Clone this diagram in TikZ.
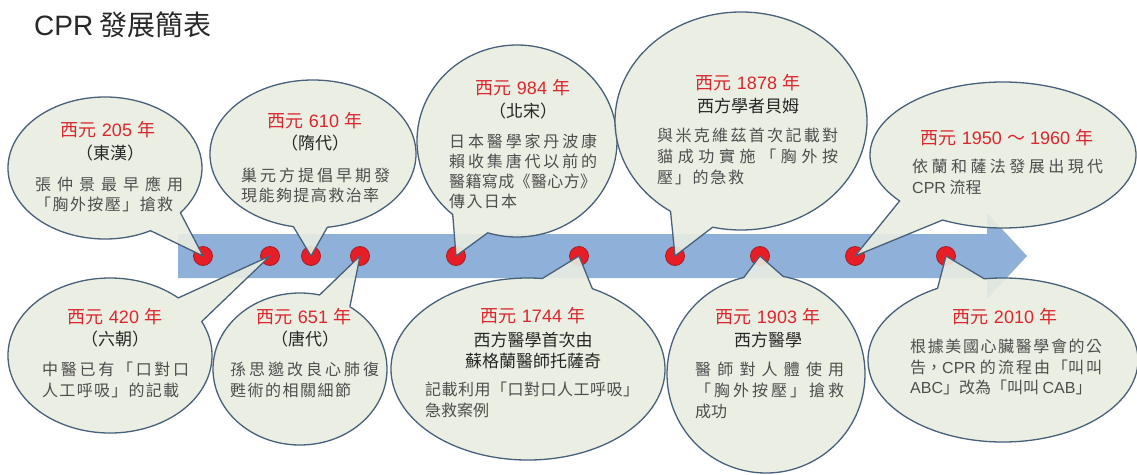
\documentclass[tikz,border=0pt]{standalone}
\usepackage{fontspec}
\setmainfont{Noto Sans CJK TC}
\newfontfamily\lat{Liberation Sans}
\usetikzlibrary{calc}

\definecolor{bandblue}{RGB}{143,176,217}
\definecolor{bubblefill}{RGB}{233,238,225}
\definecolor{bubbleline}{RGB}{72,96,122}
\definecolor{dotred}{RGB}{232,30,38}
\definecolor{dotedge}{RGB}{165,28,38}
\definecolor{yearred}{RGB}{218,38,46}
\definecolor{subdark}{RGB}{38,38,38}
\definecolor{bodygrey}{RGB}{78,78,78}
\definecolor{titlecol}{RGB}{40,40,40}

\makeatletter
\def\spr@a#1#2\@nil{#1\ifx\relax#2\relax\else\hfill\spr@a#2\@nil\fi}
\newcommand\spr[2]{\makebox[#1pt][s]{\spr@a#2\@nil}}
\makeatother
\newcommand\yr[1]{西元\hspace{0.28em}{\lat #1}\hspace{0.28em}年}

\tikzset{
  bubble/.style={fill=bubblefill, fill opacity=0.9, draw=bubbleline, line width=1.3pt, line join=round},
  tldot/.style={circle, fill=dotred, draw=dotedge, line width=0.8pt, minimum size=19pt, inner sep=0pt},
  yeartxt/.style={text=yearred, font=\fontsize{18}{20}\selectfont, inner sep=0pt, anchor=base},
  subtxt/.style={text=subdark, font=\fontsize{17}{20}\selectfont, inner sep=0pt, anchor=base},
  bodytxt/.style={text=bodygrey, font=\fontsize{16}{20}\selectfont, inner sep=0pt, anchor=base west},
  titletxt/.style={text=titlecol, font=\fontsize{28}{30}\selectfont, inner sep=0pt, anchor=base west}
}

% cx cy rx ry t1 t2 tipnode
\newcommand\bubble[7]{%
  \path[bubble] ($(#1,#2)+(#6:#3 and #4)$) arc[start angle=#6, end angle=#5+360, x radius=#3, y radius=#4] -- (#7.center) -- cycle;}

\begin{document}
\begin{tikzpicture}[x=1pt,y=-1pt]
\fill[white] (0,0) rectangle (1137,474);
\useasboundingbox (0,0) rectangle (1137,474);

\node[titletxt] (title) at (34,35) {{\lat CPR} 發展簡表};

% timeline band
\fill[bandblue] (178,234) -- (987,234) -- (987,213) -- (1027,256) -- (987,299) -- (987,278) -- (178,278) -- cycle;

% dots
\node[tldot] (d1) at (203,256) {};
\node[tldot] (d2) at (270,256) {};
\node[tldot] (d3) at (311,256) {};
\node[tldot] (d4) at (360,256) {};
\node[tldot] (d5) at (456,256) {};
\node[tldot] (d6) at (579,256) {};
\node[tldot] (d7) at (675,256) {};
\node[tldot] (d8) at (760,256) {};
\node[tldot] (d9) at (855,256) {};
\node[tldot] (d10) at (946,256) {};

% bubbles
\bubble{105}{168}{97}{71}{39}{62}{d1}
\bubble{313}{154}{103}{74}{82}{101}{d3}
\bubble{517}{141}{100}{96}{107}{130}{d5}
\bubble{741}{121}{126}{109}{103}{124}{d7}
\bubble{1003}{155}{133}{73}{117}{141}{d9}
\bubble{110}{355.5}{102}{77.5}{-48}{-26}{d2}
\bubble{300}{369}{87}{76}{-77}{-55}{d4}
\bubble{528}{369}{137}{91}{-84}{-62}{d6}
\bubble{766}{374}{99}{99}{-103}{-80}{d8}
\bubble{1003}{360}{135}{82}{-119}{-98}{d10}

% texts: 205
\node[yeartxt] (y1) at (108,136) {\yr{205}};
\node[subtxt] (s1) at (110,159.5) {（東漢）};
\node[bodytxt] (b1a) at (35,190) {\spr{148}{張仲景最早應用}};
\node[bodytxt] (b1b) at (35,210.5) {\spr{138}{「胸外按壓」搶救}};
% 610
\node[yeartxt] (y2) at (315,127) {\yr{610}};
\node[subtxt] (s2) at (315,149) {（隋代）};
\node[bodytxt] (b2a) at (241,181) {\spr{149}{巢元方提倡早期發}};
\node[bodytxt] (b2b) at (241,201) {\spr{138}{現能夠提高救治率}};
% 984
\node[yeartxt] (y3) at (523,94) {\yr{984}};
\node[subtxt] (s3) at (523,117) {（北宋）};
\node[bodytxt] (b3a) at (449,147) {\spr{148}{日本醫學家丹波康}};
\node[bodytxt] (b3b) at (449,167) {\spr{148}{賴收集唐代以前的}};
\node[bodytxt] (b3c) at (449,187) {\spr{147}{醫籍寫成《醫心方》}};
\node[bodytxt] (b3d) at (449,207) {\spr{68}{傳入日本}};
% 1878
\node[yeartxt] (y4) at (748,89) {\yr{1878}};
\node[subtxt] (s4) at (748,112.5) {西方學者貝姆};
\node[bodytxt] (b4a) at (657,141) {\spr{181}{與米克維茲首次記載對}};
\node[bodytxt] (b4b) at (657,162) {\spr{181}{貓成功實施「胸外按}};
\node[bodytxt] (b4c) at (657,183) {\spr{87}{壓」的急救}};
% 1950-1960
\node[yeartxt] (y5) at (1007,144) {\yr{1950\hspace{0.28em}{\normalfont ～}\hspace{0.28em}1960}};
\node[bodytxt] (b5a) at (912,172) {\spr{191}{依蘭和薩法發展出現代}};
\node[bodytxt] (b5b) at (912,193) {{\lat CPR} 流程};
% 420
\node[yeartxt] (y6) at (115,323) {\yr{420}};
\node[subtxt] (s6) at (115,345) {（六朝）};
\node[bodytxt] (b6a) at (42,375) {\spr{147}{中醫已有「口對口}};
\node[bodytxt] (b6b) at (42,396) {\spr{137}{人工呼吸」的記載}};
% 651
\node[yeartxt] (y7) at (304,323) {\yr{651}};
\node[subtxt] (s7) at (305,345) {（唐代）};
\node[bodytxt] (b7a) at (230,375) {\spr{149}{孫思邈改良心肺復}};
\node[bodytxt] (b7b) at (230,396) {\spr{121}{甦術的相關細節}};
% 1744
\node[yeartxt] (y8) at (533,322) {\yr{1744}};
\node[subtxt] (s8a) at (533,346) {西方醫學首次由};
\node[subtxt] (s8b) at (533,367.5) {蘇格蘭醫師托薩奇};
\node[bodytxt] (b8a) at (425,395) {\spr{214}{記載利用「口對口人工呼吸」}};
\node[bodytxt] (b8b) at (425,416) {急救案例};
% 1903
\node[yeartxt] (y9) at (768,323) {\yr{1903}};
\node[subtxt] (s9) at (768,346) {西方醫學};
\node[bodytxt] (b9a) at (695,375) {\spr{149}{醫師對人體使用}};
\node[bodytxt] (b9b) at (695,396) {\spr{149}{「胸外按壓」搶救}};
\node[bodytxt] (b9c) at (695,417) {成功};
% 2010
\node[yeartxt] (y10) at (1005,323) {\yr{2010}};
\node[bodytxt] (b10a) at (910,352) {\spr{192}{根據美國心臟醫學會的公}};
\node[bodytxt] (b10b) at (910,373.5) {\makebox[192pt][s]{告，{\lat CPR}\hspace{4pt}的\hfill 流\hfill 程\hfill 由\hfill 「叫\hfill 叫}};
\node[bodytxt] (b10c) at (910,393.5) {{\lat ABC}」改為「叫叫 {\lat CAB}」};
\end{tikzpicture}
\end{document}
